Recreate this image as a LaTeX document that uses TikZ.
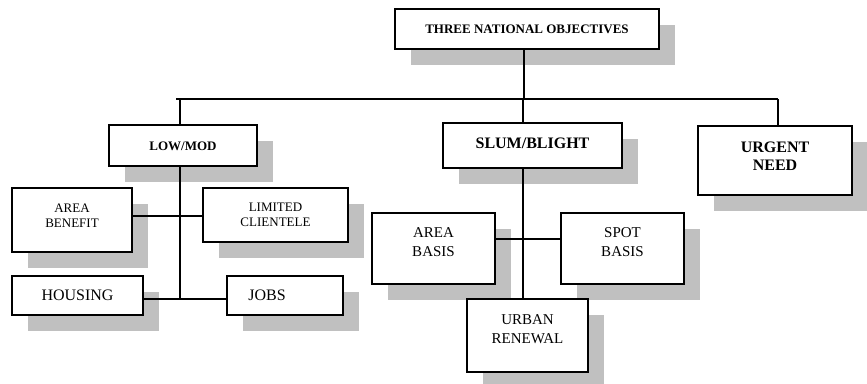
\documentclass[tikz,border=0pt]{standalone}
\usepackage{fontspec}
\setmainfont{Liberation Serif}
\usetikzlibrary{calc}
\pgfdeclarelayer{bg}
\pgfdeclarelayer{mid}
\pgfsetlayers{bg,mid,main}
\definecolor{shadowgray}{RGB}{192,192,192}
\newcommand\mybox[5]{%
  \node[box, minimum width={(#4-#2)*1pt}, minimum height={(#5-#3)*1pt}] (#1) at ({(#2+#4)/2},{(#3+#5)/2}) {};
  \begin{pgfonlayer}{bg}
    \fill[shadowgray] ({#2+16},{#3+16}) rectangle ({#4+16},{#5+16});
  \end{pgfonlayer}}
\begin{document}
\begin{tikzpicture}[x=1pt,y=-1pt,
  box/.style={draw, line width=1.6pt, fill=white, inner sep=0pt, rectangle},
  lbl/.style={align=center, inner sep=0pt},
  small/.style={font=\fontsize{13}{15}\selectfont},
  smallb/.style={font=\bfseries\fontsize{13}{15}\selectfont},
  mid/.style={font=\fontsize{15}{19}\selectfont},
  big/.style={font=\fontsize{16}{18}\selectfont},
  bigb/.style={font=\bfseries\fontsize{16}{18}\selectfont},
  conn/.style={line width=1.5pt}]
\useasboundingbox (0,0) rectangle (867,383);
% boxes
\mybox{top}{395}{9}{659}{49}
\mybox{lowmod}{109}{125}{257}{166}
\mybox{slum}{443}{123}{622}{168}
\mybox{urgent}{698}{126}{852}{195}
\mybox{areab}{12}{188}{132}{252}
\mybox{limited}{203}{188}{348}{242}
\mybox{housing}{12}{276}{143}{315}
\mybox{jobs}{227}{276}{343}{315}
\mybox{areabasis}{372}{213}{495}{284}
\mybox{spot}{561}{213}{684}{284}
\mybox{urban}{467}{299}{588}{372}
% texts
\node[lbl, smallb] (top-t) at (top) {THREE NATIONAL OBJECTIVES};
\node[lbl, smallb] (lowmod-t) at ($(lowmod)+(0,0.5)$) {LOW/MOD};
\node[lbl, bigb] (slum-t) at ($(slum)+(0,-2.5)$) {SLUM/BLIGHT};
\node[lbl, bigb] (urgent-t) at ($(urgent)+(0,-4.5)$) {URGENT\\NEED};
\node[lbl, small] (areab-t) at ($(areab)+(0,-4.5)$) {AREA\\BENEFIT};
\node[lbl, small] (limited-t) at ($(limited)+(0,-0.5)$) {LIMITED\\CLIENTELE};
\node[lbl, big] (housing-t) at (housing) {HOUSING};
\node[lbl, big] (jobs-t) at ($(jobs)+(-18,0)$) {JOBS};
\node[lbl, mid] (areabasis-t) at ($(areabasis)+(0,-6)$) {AREA\\BASIS};
\node[lbl, mid] (spot-t) at ($(spot)+(0,-6)$) {SPOT\\BASIS};
\node[lbl, mid] (urban-t) at ($(urban)+(0,-6)$) {URBAN\\RENEWAL};
% junction coordinates
\coordinate (hl) at (176,99);
\coordinate (hr) at (778,99);
\coordinate (tx) at (524,99);
\coordinate (lx) at (180,99);
\coordinate (sx) at (523,99);
\coordinate (hj) at (180,299);
\coordinate (ay) at (0,216);
\coordinate (by) at (0,239);
% connectors
\begin{pgfonlayer}{mid}
\draw[conn] (hl) -- (hr);
\draw[conn] (top.south -| tx) -- (tx);
\draw[conn] (lowmod.north -| lx) -- (lx);
\draw[conn] (lowmod.south -| lx) -- (hj);
\draw[conn] (housing.east |- hj) -- (jobs.west |- hj);
\draw[conn] (areab.east |- ay) -- (limited.west |- ay);
\draw[conn] (slum.north -| sx) -- (sx);
\draw[conn] (slum.south -| sx) -- (urban.north -| sx);
\draw[conn] (areabasis.east |- by) -- (spot.west |- by);
\draw[conn] (urgent.north -| hr) -- (hr);
\end{pgfonlayer}
\end{tikzpicture}
\end{document}
